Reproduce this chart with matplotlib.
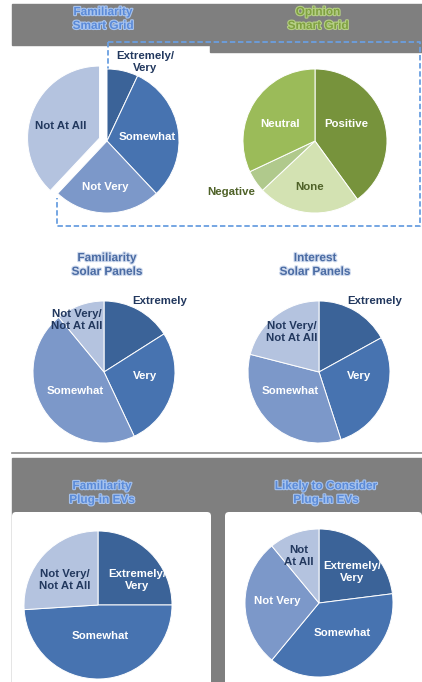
import matplotlib.pyplot as plt
from matplotlib.patches import Rectangle, FancyBboxPatch
import matplotlib.patheffects as pe

W, H = 422, 682

# Smart grid: familiarity and opinion
grid_fam_labels = ["Extremely/\nVery", "Somewhat", "Not Very", "Not At All"]
grid_fam_values = [7, 31, 24, 38]
grid_op_labels = ["Positive", "None", "Negative", "Neutral"]
grid_op_values = [40, 23, 5, 32]

# Solar panels: familiarity and interest
solar_labels = ["Extremely", "Very", "Somewhat", "Not Very/\nNot At All"]
solar_fam_values = [16, 27, 46, 11]
solar_int_values = [17, 28, 34, 21]

# Plug-in EVs: familiarity and likelihood to consider
ev_fam_labels = ["Extremely/\nVery", "Somewhat", "Not Very/\nNot At All"]
ev_fam_values = [25, 49, 26]
ev_likely_labels = ["Extremely/\nVery", "Somewhat", "Not Very", "Not\nAt All"]
ev_likely_values = [23, 38, 28, 11]

titles = ["Familiarity\nSmart Grid", "Opinion\nSmart Grid",
          "Familiarity\nSolar Panels", "Interest\nSolar Panels",
          "Familiarity\nPlug-in EVs", "Likely to Consider\nPlug-in EVs"]

BLUES4 = ["#3b6398", "#4773b0", "#7c98c9", "#b4c3df"]
GREENS = ["#77933c", "#d3e2b2", "#b0c98c", "#9bbb59"]
NAVY = "#22385e"
DKGREEN = "#4f6228"
GRAY = "#7f7f7f"
FONT = "Liberation Sans"

fig = plt.figure(figsize=(W / 100, H / 100), dpi=100)
ax = fig.add_axes([0, 0, 1, 1])


def Y(y):
    return H - y


def pie(values, colors, cx, cy, r, explode=None):
    ax.pie(values, colors=colors, center=(cx, Y(cy)), radius=r, startangle=90,
           counterclock=False, explode=explode, frame=True,
           wedgeprops=dict(edgecolor="white", linewidth=0.7))


def label(x, y, s, color, size=8.2):
    ax.text(x, Y(y), s, color=color, fontsize=size, fontweight="bold", family=FONT,
            ha="center", va="center", linespacing=1.25, zorder=5)


def title(x, y, s, color, glow, size=8.5):
    ax.text(x, Y(y), s, color=color, fontsize=size, fontweight="bold", family=FONT,
            ha="center", va="center", linespacing=1.2, zorder=5,
            path_effects=[pe.withStroke(linewidth=1.6, foreground=glow)])


# background panels
ax.add_patch(Rectangle((12, Y(45)), 410, 41, color=GRAY, zorder=0))
ax.add_patch(Rectangle((210, Y(52)), 212, 8, color=GRAY, zorder=0))
ax.plot([12, 422], [Y(453), Y(453)], color="#8c8c8c", lw=1.2, zorder=0)
ax.add_patch(Rectangle((12, 0), 410, Y(458), color=GRAY, zorder=0))
for x0, x1 in [(12, 211), (225, 422)]:
    ax.add_patch(FancyBboxPatch((x0, -10), x1 - x0, Y(512) + 10,
                                boxstyle="round,pad=0,rounding_size=4",
                                facecolor="white", edgecolor="none", zorder=0.5))

# dashed outline around the smart grid pies
dash = dict(color="#6a9fe0", lw=1.3, ls=(0, (3, 1.5)), zorder=1)
ax.plot([108, 420, 420, 57, 57], [Y(42), Y(42), Y(226), Y(226), Y(198)], **dash)
ax.plot([108, 108], [Y(42), Y(70)], **dash)

# smart grid
pie(grid_fam_values, BLUES4, 107, 141, 72, explode=[0, 0, 0, 8])
pie(grid_op_values, GREENS, 315, 141, 72)
for s, (x, y), c in zip(grid_fam_labels, [(145, 62), (147, 137), (105, 187), (61, 126)],
                        [NAVY, "white", "white", NAVY]):
    label(x, y, s, c)
for s, (x, y), c in zip(grid_op_labels, [(346, 124), (310, 187), (231, 192), (280, 124)],
                        ["white", DKGREEN, DKGREEN, "white"]):
    label(x, y, s, c)

# solar panels
pie(solar_fam_values, BLUES4, 104, 372, 71)
pie(solar_int_values, BLUES4, 319, 372, 71)
for s, (x, y), c in zip(solar_labels, [(160, 301), (145, 376), (75, 391), (77, 320)],
                        [NAVY, "white", "white", NAVY]):
    label(x, y, s, c)
for s, (x, y), c in zip(solar_labels, [(375, 301), (359, 376), (290, 391), (292, 332)],
                        [NAVY, "white", "white", NAVY]):
    label(x, y, s, c)

# plug-in EVs
pie(ev_fam_values, [BLUES4[0], BLUES4[1], BLUES4[3]], 98, 605, 74)
pie(ev_likely_values, BLUES4, 319, 603, 74)
for s, (x, y), c in zip(ev_fam_labels, [(137, 580), (100, 636), (65, 580)],
                        ["white", "white", NAVY]):
    label(x, y, s, c)
for s, (x, y), c in zip(ev_likely_labels, [(352, 572), (342, 633), (277, 601), (299, 556)],
                        ["white", "white", "white", NAVY]):
    label(x, y, s, c)

# section titles
title(103, 19, titles[0], "#5a8ad8", "#a8c4ee")
title(318, 19, titles[1], "#7fa040", "#b5cf85")
title(107, 265, titles[2], "#4a6ba3", "#d0dbee")
title(315, 265, titles[3], "#4a6ba3", "#d0dbee")
title(102, 493, titles[4], "#5b8bd8", "#a5c2ee")
title(326, 493, titles[5], "#5b8bd8", "#a5c2ee")

ax.set_xlim(0, W)
ax.set_ylim(0, H)
ax.axis("off")
fig.savefig("out.png", dpi=100, facecolor="white")
